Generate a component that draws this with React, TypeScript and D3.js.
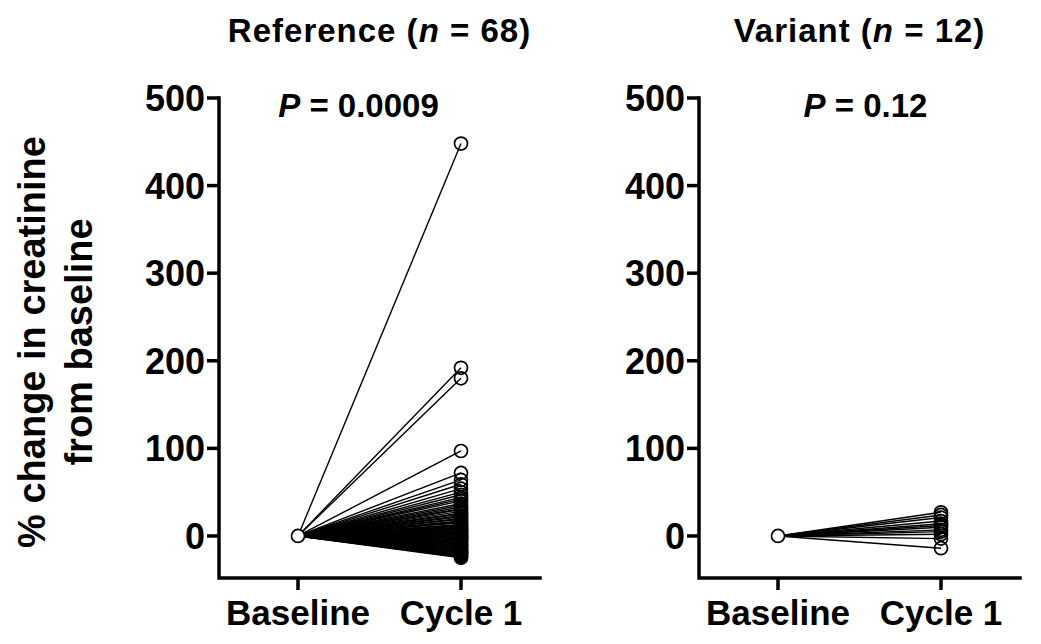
import React from "react";
import * as d3 from "d3";

const categories = ["Baseline", "Cycle 1"];
const yTicks = [0, 100, 200, 300, 400, 500];

const referenceCycle1 = [
  448, 192, 180, 97, 72, 64, 59, 54, 50, 47, 44, 42, 40, 37, 35, 33, 31, 30, 28, 26,
  25, 23, 22, 20, 19, 17, 16, 15, 13, 12, 11, 10, 9, 8, 7, 6, 5, 4, 3, 2,
  1, 0, 0, -1, -2, -3, -4, -5, -6, -7, -8, -9, -10, -11, -12, -13, -14, -15, -16, -17,
  -18, -19, -20, -21, -22, -23, -24, -25,
];
const variantCycle1 = [27, 24, 21, 17, 14, 12, 10, 7, 5, 2, -3, -14];

const panels = [
  { title: "Reference", n: 68, p: "0.0009", values: referenceCycle1 },
  { title: "Variant", n: 12, p: "0.12", values: variantCycle1 },
];

const FONT = "'Liberation Sans', Arial, Helvetica, sans-serif";

function Panel({ left, pShift, panel }: { left: number; pShift: number; panel: (typeof panels)[number] }) {
  const y = d3.scaleLinear().domain([-48, 500]).range([578, 98]);
  const x = d3.scalePoint<string>().domain(categories).range([left + 79, left + 242]);
  const axisRight = left + 321;
  const line = d3.line<[string, number]>().x((d) => x(d[0])!).y((d) => y(d[1]));
  const cx = (x(categories[0])! + x(categories[1])!) / 2;
  return (
    <g>
      <text x={cx} y={42} textAnchor="middle" fontFamily={FONT} fontWeight="bold" fontSize={33} letterSpacing={1}>
        {panel.title} (<tspan fontStyle="italic">n</tspan> = {panel.n})
      </text>
      <text x={cx + pShift} y={117} textAnchor="middle" fontFamily={FONT} fontWeight="bold" fontSize={33}>
        <tspan fontStyle="italic">P</tspan> = {panel.p}
      </text>
      {panel.values.map((v, i) => (
        <path key={"l" + i} d={line([[categories[0], 0], [categories[1], v]])!} stroke="#000" strokeWidth={1.4} fill="none" />
      ))}
      {panel.values.map((v, i) => (
        <circle key={"c" + i} cx={x(categories[1])} cy={y(v)} r={6.5} fill="none" stroke="#000" strokeWidth={1.7} />
      ))}
      <circle cx={x(categories[0])} cy={y(0)} r={6.5} fill="#fff" stroke="#000" strokeWidth={1.7} />
      <path d={`M${left},${y(500)}V${y(-48)}H${axisRight}`} stroke="#000" strokeWidth={3.5} fill="none" strokeLinecap="square" />
      {yTicks.map((t) => (
        <g key={t}>
          <line x1={left - 12} x2={left} y1={y(t)} y2={y(t)} stroke="#000" strokeWidth={3.5} />
          <text x={left - 14} y={y(t) + 13} textAnchor="end" fontFamily={FONT} fontWeight="bold" fontSize={36}>
            {t}
          </text>
        </g>
      ))}
      {categories.map((c) => (
        <g key={c}>
          <line x1={x(c)} x2={x(c)} y1={y(-48)} y2={y(-48) + 12} stroke="#000" strokeWidth={3.5} />
          <text x={x(c)} y={625} textAnchor="middle" fontFamily={FONT} fontWeight="bold" fontSize={35}>
            {c}
          </text>
        </g>
      ))}
    </g>
  );
}

export default function App() {
  return (
    <svg width={1041} height={644} style={{ position: "absolute", left: 0, top: 0, background: "#fff" }}>
      <rect width={1041} height={644} fill="#fff" />
      <g fontFamily={FONT} fontWeight="bold" fontSize={38}>
        <text transform="translate(45,342) rotate(-90)" textAnchor="middle">% change in creatinine</text>
        <text transform="translate(92,342) rotate(-90)" textAnchor="middle">from baseline</text>
      </g>
      <Panel left={219} pShift={-21} panel={panels[0]} />
      <Panel left={699} pShift={6} panel={panels[1]} />
    </svg>
  );
}
